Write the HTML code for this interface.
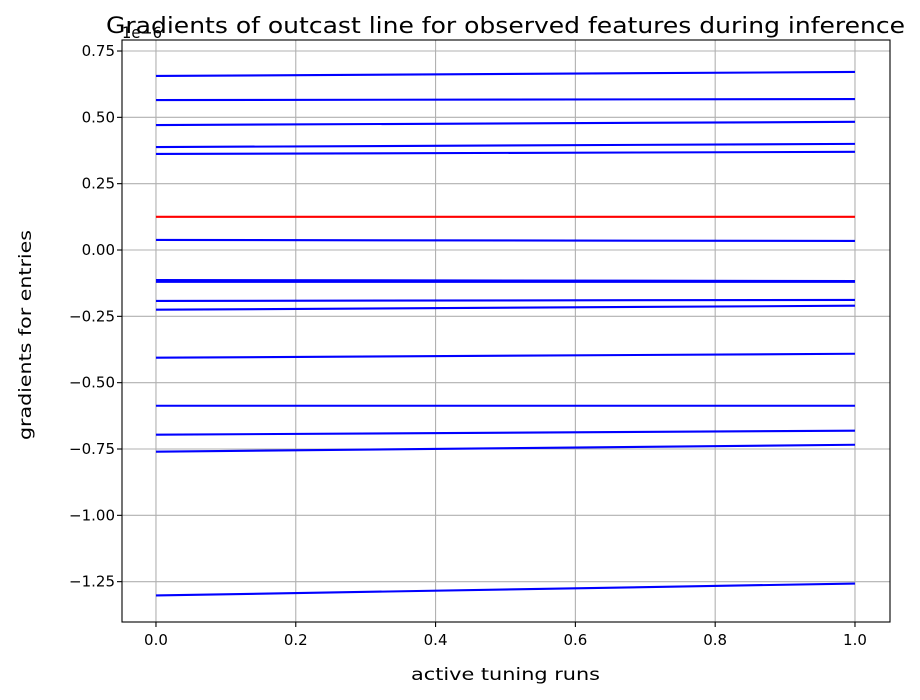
<!DOCTYPE html>
<html><head><meta charset="utf-8"><style>
body{margin:0;background:#fff}
svg{display:block;font-family:"DejaVu Sans","Liberation Sans",sans-serif}
</style></head><body>
<svg id="chart" width="920" height="700">
<rect x="0" y="0" width="920" height="700" fill="#fff"/>
<g id="grid"></g><g id="lines"></g><g id="axes"></g>
</svg>
<script>
const xTicks=[0.0,0.2,0.4,0.6,0.8,1.0];
const xTickLabels=["0.0","0.2","0.4","0.6","0.8","1.0"];
const yTicks=[0.75,0.5,0.25,0,-0.25,-0.5,-0.75,-1.0,-1.25];
const yTickLabels=["0.75","0.50","0.25","0.00","\u22120.25","\u22120.50","\u22120.75","\u22121.00","\u22121.25"];
const seriesStart=[0.656,0.565,0.471,0.388,0.362,0.125,0.038,-0.113,-0.120,-0.192,-0.225,-0.406,-0.587,-0.696,-0.760,-1.302];
const seriesEnd=[0.671,0.569,0.483,0.400,0.370,0.125,0.034,-0.117,-0.120,-0.188,-0.210,-0.391,-0.587,-0.681,-0.734,-1.257];
const seriesColor=["blue","blue","blue","blue","blue","red","blue","blue","blue","blue","blue","blue","blue","blue","blue","blue"];
const L=122,R=890,T=40,B=622,xmin=-0.0486,xmax=1.0501,ymin=-1.402,ymax=0.7915;
const xs=v=>L+(v-xmin)/(xmax-xmin)*(R-L);
const ys=v=>B-(v-ymin)/(ymax-ymin)*(B-T);
const NS="http://www.w3.org/2000/svg";
function mk(p,t,a){const e=document.createElementNS(NS,t);for(const k in a)e.setAttribute(k,a[k]);p.appendChild(e);return e;}
const G=document.getElementById('grid'),Ln=document.getElementById('lines'),A=document.getElementById('axes');
xTicks.forEach((v,i)=>{const x=xs(v);
 const g=mk(G,'line',{x1:x,x2:x,y1:T,y2:B,stroke:'#b0b0b0','stroke-width':1.1});
 
 
 mk(A,'line',{x1:x,x2:x,y1:B,y2:B+5,stroke:'#000','stroke-width':1.1});
 const t=mk(A,'text',{x:x,y:B+23,'text-anchor':'middle','font-size':15});t.textContent=xTickLabels[i];
 
 
});
yTicks.forEach((v,i)=>{const y=ys(v);
 const g=mk(G,'line',{x1:L,x2:R,y1:y,y2:y,stroke:'#b0b0b0','stroke-width':1.1});
 
 
 mk(A,'line',{x1:L-5,x2:L,y1:y,y2:y,stroke:'#000','stroke-width':1.1});
 const t=mk(A,'text',{x:L-7,y:y+5,'text-anchor':'end','font-size':15});t.textContent=yTickLabels[i];
 
 
});
seriesStart.forEach((v,i)=>{
 const l=mk(Ln,'line',{x1:xs(0),x2:xs(1),y1:ys(v),y2:ys(seriesEnd[i]),stroke:seriesColor[i],'stroke-width':2.1});
 
 
});
const fr=mk(A,'rect',{x:L,y:T,width:R-L,height:B-T,fill:'none',stroke:'#000','stroke-width':1.1});


</script>
<svg style="position:absolute;left:0;top:0" width="920" height="700">
<text x="122" y="38" font-size="16" textLength="40" lengthAdjust="spacingAndGlyphs" font-family="DejaVu Sans, Liberation Sans, sans-serif">1e−6</text>
<text x="106" y="33" font-size="22" textLength="799" lengthAdjust="spacingAndGlyphs" font-family="DejaVu Sans, Liberation Sans, sans-serif">Gradients of outcast line for observed features during inference</text>
<text x="411" y="680" font-size="17" textLength="189" lengthAdjust="spacingAndGlyphs" font-family="DejaVu Sans, Liberation Sans, sans-serif">active tuning runs</text>
<text x="31" y="440" font-size="17" textLength="210" lengthAdjust="spacingAndGlyphs" transform="rotate(-90 31 440)" font-family="DejaVu Sans, Liberation Sans, sans-serif">gradients for entries</text>
</svg>
</body></html>
